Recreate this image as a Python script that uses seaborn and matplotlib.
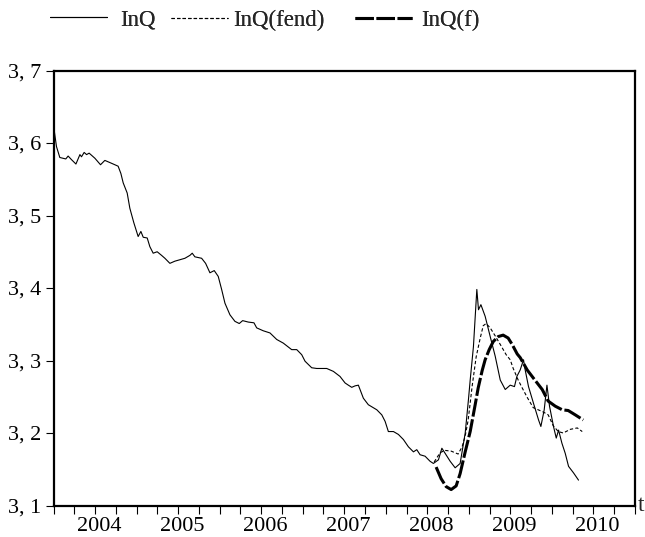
import numpy as np
import pandas as pd
import matplotlib
matplotlib.use("Agg")
import matplotlib.pyplot as plt
import matplotlib.transforms as mtransforms
from matplotlib.ticker import FixedLocator, FuncFormatter, FixedFormatter
import seaborn as sns

# ---- data (decimal years) ----
lnq_t = [2004.004, 2004.036, 2004.076, 2004.148, 2004.176, 2004.217, 2004.270, 2004.318, 2004.337,
         2004.369, 2004.398, 2004.429, 2004.498, 2004.566, 2004.618, 2004.699, 2004.778, 2004.811,
         2004.839, 2004.887, 2004.919, 2004.967, 2005.019, 2005.052, 2005.080, 2005.128, 2005.160,
         2005.200, 2005.248, 2005.301, 2005.341, 2005.401, 2005.461, 2005.522, 2005.582, 2005.642,
         2005.670, 2005.702, 2005.783, 2005.831, 2005.883, 2005.935, 2005.983, 2006.024, 2006.064,
         2006.124, 2006.184, 2006.236, 2006.277, 2006.345, 2006.413, 2006.446, 2006.525, 2006.606,
         2006.687, 2006.766, 2006.867, 2006.928, 2006.988, 2007.028, 2007.108, 2007.169, 2007.289,
         2007.369, 2007.449, 2007.510, 2007.549, 2007.590, 2007.630, 2007.670, 2007.730, 2007.790,
         2007.892, 2007.952, 2007.992, 2008.031, 2008.092, 2008.152, 2008.212, 2008.272, 2008.333,
         2008.373, 2008.413, 2008.473, 2008.533, 2008.573, 2008.634, 2008.675, 2008.714, 2008.775,
         2008.835, 2008.895, 2008.956, 2008.995, 2009.016, 2009.055, 2009.096, 2009.116, 2009.145,
         2009.196, 2009.257, 2009.317, 2009.378, 2009.438, 2009.498, 2009.549, 2009.578, 2009.618,
         2009.658, 2009.678, 2009.718, 2009.778, 2009.839, 2009.867, 2009.907, 2009.940, 2009.971,
         2010.019, 2010.052, 2010.080, 2010.120, 2010.160, 2010.200, 2010.260, 2010.320]
lnq_v = [3.621, 3.595, 3.580, 3.578, 3.582, 3.577, 3.571, 3.584, 3.581,
         3.587, 3.584, 3.586, 3.579, 3.570, 3.576, 3.572, 3.568, 3.558,
         3.545, 3.531, 3.510, 3.490, 3.471, 3.478, 3.470, 3.469, 3.457,
         3.448, 3.450, 3.445, 3.441, 3.434, 3.437, 3.439, 3.441, 3.445,
         3.448, 3.443, 3.441, 3.434, 3.421, 3.424, 3.416, 3.398, 3.379,
         3.363, 3.354, 3.351, 3.355, 3.353, 3.352, 3.345, 3.341, 3.338,
         3.329, 3.324, 3.315, 3.315, 3.308, 3.299, 3.290, 3.289, 3.289,
         3.285, 3.278, 3.269, 3.266, 3.263, 3.265, 3.266, 3.248, 3.239,
         3.232, 3.225, 3.216, 3.202, 3.202, 3.198, 3.191, 3.181, 3.174,
         3.177, 3.170, 3.168, 3.161, 3.158, 3.163, 3.179, 3.172, 3.161,
         3.152, 3.158, 3.200, 3.246, 3.273, 3.319, 3.398, 3.370, 3.377,
         3.361, 3.333, 3.306, 3.273, 3.260, 3.266, 3.264, 3.278, 3.287,
         3.301, 3.287, 3.264, 3.241, 3.218, 3.209, 3.232, 3.266, 3.237,
         3.209, 3.193, 3.204, 3.186, 3.172, 3.154, 3.145, 3.135]

fend_t = [2008.582, 2008.655, 2008.714, 2008.787, 2008.871, 2008.919, 2008.956, 2008.992, 2009.040,
          2009.088, 2009.137, 2009.173, 2009.208, 2009.257, 2009.317, 2009.389, 2009.449, 2009.498,
          2009.534, 2009.594, 2009.643, 2009.703, 2009.775, 2009.835, 2009.895, 2009.955, 2010.016,
          2010.076, 2010.136, 2010.220, 2010.305, 2010.365]
fend_v = [3.160, 3.173, 3.176, 3.175, 3.171, 3.181, 3.196, 3.218, 3.265,
          3.305, 3.331, 3.348, 3.351, 3.345, 3.334, 3.320, 3.308, 3.301,
          3.289, 3.273, 3.262, 3.249, 3.235, 3.232, 3.229, 3.225, 3.210,
          3.202, 3.200, 3.205, 3.207, 3.202]

f_t = [2008.606, 2008.666, 2008.727, 2008.787, 2008.847, 2008.895, 2008.956, 2009.016, 2009.076,
       2009.112, 2009.160, 2009.196, 2009.245, 2009.293, 2009.353, 2009.413, 2009.473, 2009.522,
       2009.582, 2009.618, 2009.702, 2009.775, 2009.883, 2009.955, 2010.040, 2010.124, 2010.196,
       2010.281, 2010.377]
f_v = [3.153, 3.137, 3.126, 3.122, 3.127, 3.144, 3.174, 3.202, 3.239,
       3.262, 3.286, 3.301, 3.315, 3.326, 3.333, 3.335, 3.331, 3.322,
       3.309, 3.304, 3.287, 3.276, 3.260, 3.244, 3.237, 3.232, 3.231,
       3.225, 3.218]

series_names = ["InQ", "InQ(fend)", "InQ(f)"]
year_labels = [2004, 2005, 2006, 2007, 2008, 2009, 2010]
y_ticks = [3.1, 3.2, 3.3, 3.4, 3.5, 3.6, 3.7]

# ---- style ----
sns.set_style("white")
plt.rcParams["font.family"] = ["Liberation Serif", "DejaVu Serif"]

W, H = 645, 537
fig = plt.figure(figsize=(6.45, 5.37), dpi=100)
ax = fig.add_axes([53.5 / W, 1 - 505.5 / H, (635 - 53.5) / W, (505.5 - 70.5) / H])

df_q = pd.DataFrame({"t": lnq_t, "v": lnq_v})
df_fend = pd.DataFrame({"t": fend_t, "v": fend_v})
df_f = pd.DataFrame({"t": f_t, "v": f_v})

sns.lineplot(data=df_q, x="t", y="v", ax=ax, color="black", linewidth=0.8,
             label=series_names[0], errorbar=None, sort=False)
sns.lineplot(data=df_fend, x="t", y="v", ax=ax, color="black", linewidth=0.8,
             linestyle=(0, (3, 2)), label=series_names[1], errorbar=None, sort=False)
sns.lineplot(data=df_f, x="t", y="v", ax=ax, color="black", linewidth=2.2,
             linestyle=(0, (6, 0.9)), label=series_names[2], errorbar=None, sort=False)

ax.set_xlim(2004.0, 2011.0)
ax.set_ylim(3.1, 3.7)
ax.set_xlabel("")
ax.set_ylabel("")

# x ticks: quarterly marks, year labels at mid-year
ax.xaxis.remove_overlapping_locs = False
ax.xaxis.set_major_locator(FixedLocator(np.arange(2004.0, 2011.01, 0.25)))
ax.xaxis.set_major_formatter(FuncFormatter(lambda v, p: ""))
ax.xaxis.set_minor_locator(FixedLocator([y + 0.5 for y in year_labels]))
ax.xaxis.set_minor_formatter(FixedFormatter([str(y) for y in year_labels]))
ax.tick_params(axis="x", which="major", direction="out", length=6, width=0.8,
               bottom=True, color="black")
ax.tick_params(axis="x", which="minor", direction="out", length=0, bottom=True,
               labelbottom=True, labelsize=16, pad=8.5, labelcolor="black")
shift = mtransforms.ScaledTranslation(3 / 72, 0, fig.dpi_scale_trans)
for lbl in ax.xaxis.get_minorticklabels():
    lbl.set_transform(lbl.get_transform() + shift)

ax.set_yticks(y_ticks)
ax.yaxis.set_major_formatter(FuncFormatter(lambda v, p: f"{v:.1f}".replace(".", ", ")))
ax.tick_params(axis="y", which="major", direction="out", length=6, width=0.8,
               left=True, labelsize=16, pad=3, color="black", labelcolor="black")

for s in ax.spines.values():
    s.set_visible(True)
    s.set_color("black")
    s.set_linewidth(1.6)

ax.text(1.005, 0.0, "t", transform=ax.transAxes, fontsize=17, ha="left", va="center")

handles, labels = ax.get_legend_handles_labels()
ax.get_legend().remove()
legend_x = [50, 171, 355]
legend_pad = [0.55, 0.2, 0.4]
for h, lab, lx, pd_ in zip(handles, labels, legend_x, legend_pad):
    lg = fig.legend([h], [lab], loc="center left", bbox_to_anchor=(lx / W, 1 - 20 / H),
                    frameon=False, fontsize=16.5, handlelength=2.5, handletextpad=pd_,
                    borderpad=0, borderaxespad=0)
    fig.add_artist(lg)

fig.savefig("out.png", dpi=100)
